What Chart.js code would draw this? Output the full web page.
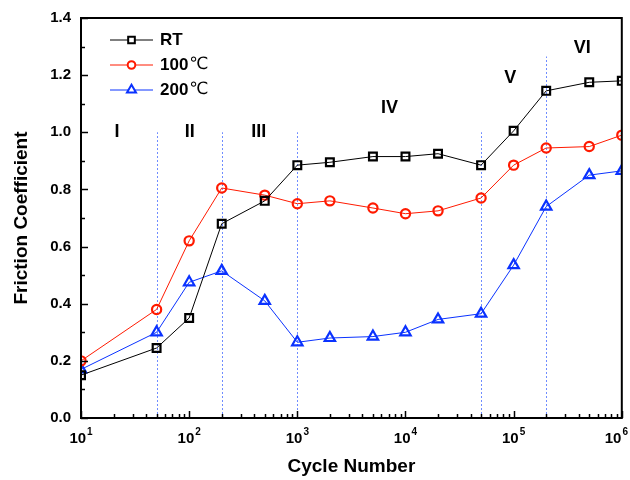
<!DOCTYPE html>
<html>
<head>
<meta charset="utf-8">
<script src="https://cdn.jsdelivr.net/npm/chart.js@4.4.1/dist/chart.umd.min.js"></script>
<style>
  html, body { margin: 0; padding: 0; background: #fff; }
  #wrap { width: 630px; height: 480px; }
</style>
</head>
<body>
<div id="wrap"><canvas id="chart"></canvas></div>
<script>
// cycle counts where friction was measured
const cycles = [10, 50, 100, 200, 500, 1000, 2000, 5000, 10000, 20000, 50000, 100000, 200000, 500000, 1000000];
const frictionRT = [0.15, 0.245, 0.35, 0.68, 0.76, 0.885, 0.895, 0.915, 0.915, 0.925, 0.885, 1.005, 1.145, 1.175, 1.18];
const friction100 = [0.20, 0.38, 0.62, 0.805, 0.78, 0.75, 0.76, 0.735, 0.715, 0.725, 0.77, 0.885, 0.945, 0.95, 0.99];
const friction200 = [0.17, 0.30, 0.475, 0.515, 0.41, 0.265, 0.28, 0.285, 0.30, 0.345, 0.365, 0.535, 0.74, 0.85, 0.865];

const seriesLabels = ['RT', '100', '200'];
const seriesUnits = ['', '℃', '℃'];

// wear stage boundaries and labels
const stageBounds = [50, 200, 1000, 50000, 200000];
const stageBoundTops = [1.0, 1.0, 1.0, 1.0, 1.265];
const stageNames = ['I', 'II', 'III', 'IV', 'V', 'VI'];
const stageNameX = [21.5, 101, 440, 7100, 93000, 430000];
const stageNameY = [1.0, 1.0, 1.0, 1.085, 1.19, 1.295];

const decadeExps = [1, 2, 3, 4, 5, 6];
const yMinorTicks = [0.1, 0.3, 0.5, 0.7, 0.9, 1.1, 1.3];

const FONT = '"Liberation Sans", Arial, sans-serif';
const colors = ['#000000', '#ff1a00', '#0a32ff'];
const styles = ['rect', 'circle', 'triangle'];
const radii = [5.5, 4.6, 6];

const toPoints = arr => cycles.map((c, i) => ({ x: c, y: arr[i] }));

const decorations = {
  id: 'decorations',
  beforeDatasetsDraw(chart) {
    const { ctx } = chart;
    const xs = chart.scales.x, ys = chart.scales.y;
    ctx.save();
    // dotted stage boundaries
    ctx.strokeStyle = '#6f8cff';
    ctx.lineWidth = 1;
    ctx.setLineDash([2, 2]);
    stageBounds.forEach((b, i) => {
      const px = Math.round(xs.getPixelForValue(b)) + 0.5;
      ctx.beginPath();
      ctx.moveTo(px, ys.getPixelForValue(0));
      ctx.lineTo(px, ys.getPixelForValue(stageBoundTops[i]));
      ctx.stroke();
    });
    ctx.setLineDash([]);
    // stage names
    ctx.fillStyle = '#000';
    ctx.font = 'bold 18px ' + FONT;
    ctx.textAlign = 'center';
    ctx.textBaseline = 'middle';
    stageNames.forEach((n, i) => {
      ctx.fillText(n, xs.getPixelForValue(stageNameX[i]), ys.getPixelForValue(stageNameY[i]));
    });
    ctx.restore();
  },
  afterDraw(chart) {
    const { ctx, chartArea: a } = chart;
    const xs = chart.scales.x, ys = chart.scales.y;
    ctx.save();
    ctx.strokeStyle = '#000';
    ctx.lineWidth = 1.5;
    // inward tick marks on bottom axis
    decadeExps.forEach(e => {
      for (let m = 1; m <= 9; m++) {
        const v = m * Math.pow(10, e);
        if (v > 1e6) break;
        const px = Math.round(xs.getPixelForValue(v)) + 0.5;
        const len = m === 1 ? 7 : 4;
        ctx.beginPath();
        ctx.moveTo(px, a.bottom);
        ctx.lineTo(px, a.bottom - len);
        ctx.stroke();
      }
    });
    // inward tick marks on left axis
    ys.ticks.forEach(t => {
      const py = Math.round(ys.getPixelForValue(t.value)) + 0.5;
      ctx.beginPath();
      ctx.moveTo(a.left, py);
      ctx.lineTo(a.left + 7, py);
      ctx.stroke();
    });
    yMinorTicks.forEach(v => {
      const py = Math.round(ys.getPixelForValue(v)) + 0.5;
      ctx.beginPath();
      ctx.moveTo(a.left, py);
      ctx.lineTo(a.left + 4, py);
      ctx.stroke();
    });
    // frame
    ctx.lineWidth = 2;
    ctx.strokeRect(a.left, a.top, a.right - a.left, a.bottom - a.top);

    // decade labels 10^n
    ctx.fillStyle = '#000';
    ctx.textBaseline = 'alphabetic';
    ctx.textAlign = 'left';
    decadeExps.forEach(e => {
      const px = xs.getPixelForValue(Math.pow(10, e));
      ctx.font = 'bold 15px ' + FONT;
      const wBase = ctx.measureText('10').width;
      ctx.font = 'bold 10px ' + FONT;
      const wExp = ctx.measureText(String(e)).width;
      const total = wBase + 1 + wExp;
      const x0 = Math.min(px - total / 2, chart.width - 2 - total);
      ctx.font = 'bold 15px ' + FONT;
      ctx.fillText('10', x0, a.bottom + 25);
      ctx.font = 'bold 10px ' + FONT;
      ctx.fillText(String(e), x0 + wBase + 1, a.bottom + 17);
    });

    // legend
    const lx0 = 110, lx1 = 153, tx = 160;
    const rows = [40, 65, 90];
    chart.data.datasets.forEach((ds, i) => {
      const y = rows[i];
      ctx.strokeStyle = ds.borderColor;
      ctx.lineWidth = 1;
      ctx.beginPath();
      ctx.moveTo(lx0, y);
      ctx.lineTo(lx1, y);
      ctx.stroke();
      ctx.fillStyle = '#fff';
      ctx.lineWidth = 2;
      Chart.helpers.drawPoint(ctx, {
        pointStyle: styles[i], radius: radii[i] - 0.8, borderWidth: 2
      }, (lx0 + lx1) / 2, y);
      ctx.fillStyle = '#000';
      ctx.textBaseline = 'middle';
      ctx.font = 'bold 17px ' + FONT;
      ctx.fillText(seriesLabels[i], tx, y);
      if (seriesUnits[i]) {
        const w = ctx.measureText(seriesLabels[i]).width;
        ctx.font = '17px "DejaVu Sans", ' + FONT;
        ctx.fillText(seriesUnits[i], tx + w + 1, y);
      }
    });
    ctx.restore();
  }
};

new Chart(document.getElementById('chart'), {
  type: 'line',
  data: {
    datasets: [frictionRT, friction100, friction200].map((arr, i) => ({
      label: seriesLabels[i] + seriesUnits[i],
      data: toPoints(arr),
      borderColor: colors[i],
      backgroundColor: '#fff',
      borderWidth: 1,
      pointStyle: styles[i],
      pointRadius: radii[i],
      pointBorderWidth: 2.2,
      pointBackgroundColor: 'rgba(255,255,255,0)',
      pointBorderColor: colors[i],
      tension: 0
    }))
  },
  options: {
    responsive: true,
    maintainAspectRatio: false,
    animation: false,
    events: [],
    layout: { padding: { top: 18, right: 7, left: 0, bottom: 0 } },
    plugins: { legend: { display: false }, tooltip: { enabled: false } },
    scales: {
      x: {
        type: 'logarithmic',
        min: 10,
        max: 1000000,
        grid: { display: false },
        border: { display: false },
        ticks: { display: false },
        title: {
          display: true,
          text: 'Cycle Number',
          color: '#000',
          font: { family: FONT, size: 19, weight: 'bold' },
          padding: { top: 0, bottom: 2 }
        },
        afterFit(scale) { scale.height = 62; }
      },
      y: {
        min: 0,
        max: 1.4,
        grid: { display: false },
        border: { display: false },
        ticks: {
          stepSize: 0.2,
          padding: 2,
          color: '#000',
          font: { family: FONT, size: 15, weight: 'bold' },
          callback: v => v.toFixed(1)
        },
        title: {
          display: true,
          text: 'Friction Coefficient',
          color: '#000',
          font: { family: FONT, size: 19, weight: 'bold' },
          padding: { top: 10, bottom: 0 }
        },
        afterFit(scale) { scale.width = 81; }
      }
    }
  }
  ,
  plugins: [decorations]
});
</script>
</body>
</html>
